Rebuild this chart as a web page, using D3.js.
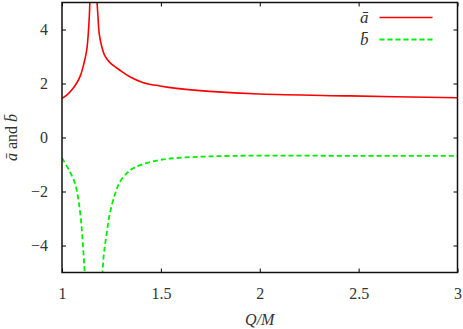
<!DOCTYPE html>
<html>
<head>
<meta charset="utf-8">
<script src="https://cdn.jsdelivr.net/npm/d3@7"></script>
<style>
  body { margin: 0; background: #fff; }
</style>
</head>
<body>
<svg id="canvas"></svg>
<script>
// values (null = break at the asymptote)
var qA = [1.0, 1.024, 1.049, 1.074, 1.094, 1.111, 1.125, 1.133, 1.138, 1.141, 1.146, null,
          1.1685, 1.177, 1.182, 1.188, 1.2, 1.217, 1.239, 1.259, 1.293, 1.343, 1.411, 1.495, 1.579, 1.747, 2.0, 2.455, 3.0];
var aBar = [1.45, 1.57, 1.76, 2.01, 2.31, 2.75, 3.24, 3.86, 4.47, 5.03, 6.0, null,
            6.0, 5.03, 4.47, 3.86, 3.4, 3.02, 2.8, 2.67, 2.49, 2.25, 2.03, 1.91, 1.82, 1.71, 1.61, 1.54, 1.47];

var qB = [1.0, 1.04, 1.066, 1.083, 1.096, 1.104, 1.111, 1.115, 1.125, null,
          1.194, 1.205, 1.212, 1.226, 1.242, 1.268, 1.293, 1.327, 1.36, 1.411, 1.495, 1.579, 1.747, 2.0, 2.5, 3.0];
var bBar = [-0.76, -1.27, -1.7, -2.31, -3.06, -3.8, -4.54, -4.97, -6.0, null,
            -6.0, -4.97, -4.29, -3.55, -2.81, -2.1, -1.64, -1.33, -1.14, -0.98, -0.83, -0.76, -0.7, -0.67, -0.68, -0.68];

var xTicks = [1, 1.5, 2, 2.5, 3];
var yTicks = [-4, -2, 0, 2, 4];

var serif = '"Liberation Serif", "Times New Roman", Tinos, "DejaVu Serif", serif';

var svgWidth = 463, svgHeight = 329;
var margin = {top: 2.5, right: 5.5, bottom: 56.5, left: 62};
var width = svgWidth - margin.left - margin.right,
    height = svgHeight - margin.top - margin.bottom;

var svg = d3.select('svg')
    .attr('width', svgWidth)
    .attr('height', svgHeight)
    .style('font-family', serif);

var g = svg.append('g')
    .attr('transform', 'translate(' + margin.left + ',' + margin.top + ')');

var x = d3.scaleLinear().domain([1, 3]).range([0, width]);
var y = d3.scaleLinear().domain([-5, 5]).range([height, 0]);

g.append('defs').append('clipPath').attr('id', 'clip')
  .append('rect').attr('width', width).attr('height', height);

// ticks on all four sides, pointing inward
var tl = 4;
function tickAxis(axis, transform) {
    var ax = g.append('g').attr('transform', transform).call(axis)
        .attr('font-family', null);
    ax.select('.domain').remove();
    ax.selectAll('line').attr('stroke', '#000').attr('stroke-width', 1);
    return ax;
}
var fmt = function(d) { return d < 0 ? '\u2212' + Math.abs(d) : String(d); };

tickAxis(d3.axisBottom(x).tickValues(xTicks).tickSizeInner(-tl).tickSizeOuter(0).tickPadding(15).tickFormat(fmt),
         'translate(0,' + height + ')');
tickAxis(d3.axisTop(x).tickValues(xTicks).tickSizeInner(-tl).tickSizeOuter(0).tickFormat(''), 'translate(0,0)');
tickAxis(d3.axisLeft(y).tickValues(yTicks).tickSizeInner(-tl).tickSizeOuter(0).tickPadding(14).tickFormat(fmt),
         'translate(0,0)');
tickAxis(d3.axisRight(y).tickValues(yTicks).tickSizeInner(-tl).tickSizeOuter(0).tickFormat(''), 'translate(' + width + ',0)');

g.selectAll('.tick text')
    .style('font-family', serif)
    .attr('font-size', 16)
    .attr('fill', '#333');

// curves
var line = d3.line()
    .defined(function(d) { return d[1] !== null; })
    .curve(d3.curveCatmullRom.alpha(0.5))
    .x(function(d) { return x(d[0]); })
    .y(function(d) { return y(d[1]); });

var curves = g.append('g').attr('clip-path', 'url(#clip)');
curves.append('path')
    .datum(d3.zip(qA, aBar))
    .attr('d', line)
    .attr('fill', 'none')
    .attr('stroke', '#ff0000')
    .attr('stroke-width', 1.6);
curves.append('path')
    .datum(d3.zip(qB, bBar))
    .attr('d', line)
    .attr('fill', 'none')
    .attr('stroke', '#00ee00')
    .attr('stroke-width', 1.8)
    .attr('stroke-dasharray', '5,3');

// frame
g.append('rect')
    .attr('width', width).attr('height', height)
    .attr('fill', 'none')
    .attr('stroke', '#111')
    .attr('stroke-width', 1.5);

// legend
var legend = g.append('g').attr('transform', 'translate(' + (width - 25) + ',0)');
var items = [
    {label: '\u0101', color: '#ff0000', dash: null, width: 1.6},
    {label: 'b\u0304', color: '#00ee00', dash: '5,3', width: 1.8}
];
items.forEach(function(it, i) {
    var yy = 15 + i * 22;
    legend.append('text')
        .attr('x', -64).attr('y', yy)
        .attr('dy', '0.35em')
        .attr('text-anchor', 'end')
        .style('font-family', serif)
        .attr('font-style', 'italic')
        .attr('font-size', 17)
        .attr('fill', '#333')
        .text(it.label);
    legend.append('line')
        .attr('x1', -53).attr('x2', 0)
        .attr('y1', yy).attr('y2', yy)
        .attr('stroke', it.color)
        .attr('stroke-width', it.width)
        .attr('stroke-dasharray', it.dash);
});

// axis titles
svg.append('text')
    .attr('x', margin.left + width / 2)
    .attr('y', 325)
    .attr('text-anchor', 'middle')
    .style('font-family', serif)
    .attr('font-style', 'italic')
    .attr('font-size', 16)
    .attr('fill', '#333')
    .text('Q/M');

var yt = svg.append('text')
    .attr('transform', 'translate(17,' + (margin.top + height / 2) + ') rotate(-90)')
    .attr('text-anchor', 'middle')
    .style('font-family', serif)
    .attr('font-size', 16)
    .attr('fill', '#333');
yt.append('tspan').attr('font-style', 'italic').text('\u0101');
yt.append('tspan').text(' and ');
yt.append('tspan').attr('font-style', 'italic').text('b\u0304');
</script>
</body>
</html>
